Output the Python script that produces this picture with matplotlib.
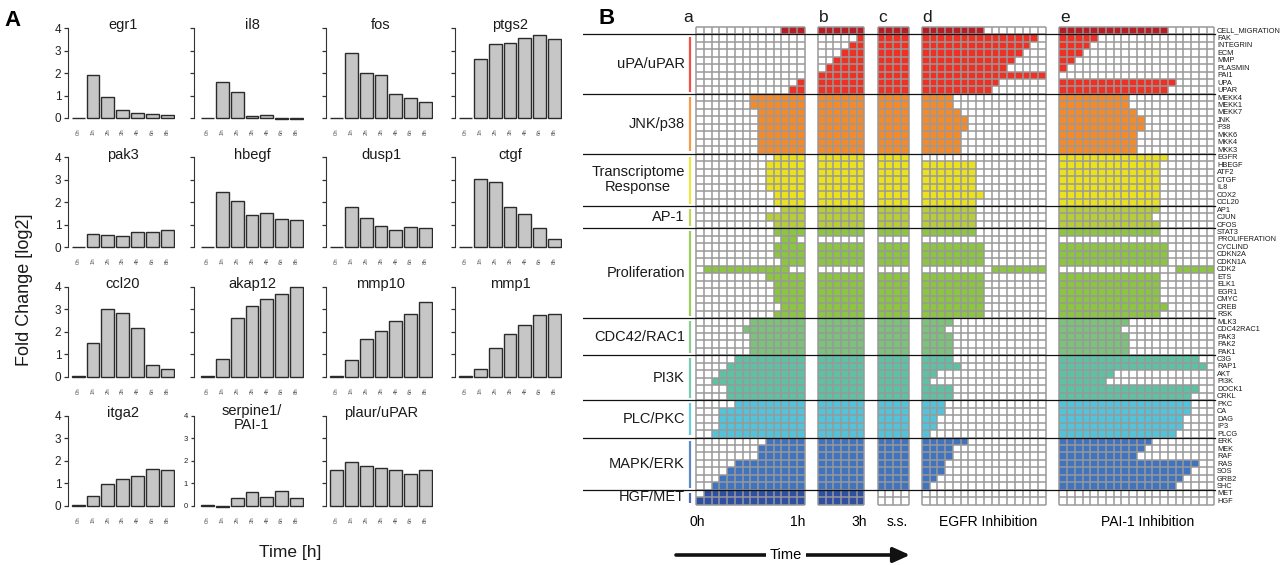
import numpy as np
import matplotlib.pyplot as plt
from matplotlib.colors import ListedColormap, BoundaryNorm

plt.rcParams['font.family'] = ['Liberation Sans', 'DejaVu Sans']

W, H = 1286, 565
fig = plt.figure(figsize=(W / 100, H / 100), dpi=100)


def px_axes(left, top, width, height):
    return fig.add_axes([left / W, 1 - (top + height) / H, width / W, height / H])


# ---------------- panel A data ----------------
time_labels = ['0h', '1h', '2h', '3h', '4h', '6h', '8h']
gene_names = ['egr1', 'il8', 'fos', 'ptgs2', 'pak3', 'hbegf', 'dusp1', 'ctgf',
              'ccl20', 'akap12', 'mmp10', 'mmp1', 'itga2', 'serpine1/\nPAI-1', 'plaur/uPAR']
egr1 = [0.02, 1.91, 0.94, 0.37, 0.22, 0.19, 0.15]
il8 = [0.01, 1.62, 1.17, 0.10, 0.15, -0.06, -0.04]
fos = [0.01, 2.90, 1.99, 1.93, 1.06, 0.89, 0.73]
ptgs2 = [0.01, 2.62, 3.27, 3.32, 3.54, 3.69, 3.51]
pak3 = [0.01, 0.61, 0.54, 0.51, 0.67, 0.67, 0.76]
hbegf = [0.01, 2.48, 2.07, 1.42, 1.51, 1.28, 1.22]
dusp1 = [0.01, 1.79, 1.29, 0.96, 0.77, 0.92, 0.86]
ctgf = [0.01, 3.04, 2.92, 1.79, 1.47, 0.87, 0.37]
ccl20 = [0.01, 1.51, 2.99, 2.81, 2.16, 0.51, 0.34]
akap12 = [0.01, 0.79, 2.62, 3.15, 3.46, 3.68, 3.97]
mmp10 = [0.01, 0.75, 1.68, 2.04, 2.49, 2.78, 3.34]
mmp1 = [0.01, 0.34, 1.26, 1.88, 2.31, 2.74, 2.79]
itga2 = [0.01, 0.42, 0.95, 1.17, 1.33, 1.61, 1.59]
serpine1 = [0.01, -0.08, 0.35, 0.61, 0.39, 0.67, 0.32]
plaur = [1.60, 1.95, 1.78, 1.68, 1.60, 1.42, 1.58]
fold_changes = [egr1, il8, fos, ptgs2, pak3, hbegf, dusp1, ctgf,
                ccl20, akap12, mmp10, mmp1, itga2, serpine1, plaur]

# ---------------- panel B data ----------------
group_names = ['', 'uPA/uPAR', 'JNK/p38', 'Transcriptome\nResponse', 'AP-1', 'Proliferation',
               'CDC42/RAC1', 'PI3K', 'PLC/PKC', 'MAPK/ERK', 'HGF/MET']
group_sizes = [1, 8, 8, 7, 3, 12, 5, 6, 5, 7, 2]
group_colors = ['#B81C24', '#EE3124', '#F58A2B', '#EBE21F', '#B9CD3B', '#8CC641',
                '#7BC27B', '#5DC1A4', '#51C4DB', '#4174BE', '#2F4FA2']
node_names = ['CELL_MIGRATION', 'FAK', 'INTEGRIN', 'ECM', 'MMP', 'PLASMIN', 'PAI1', 'UPA', 'UPAR',
              'MEKK4', 'MEKK1', 'MEKK7', 'JNK', 'P38', 'MKK6', 'MKK4', 'MKK3',
              'EGFR', 'HBEGF', 'ATF2', 'CTGF', 'IL8', 'COX2', 'CCL20',
              'AP1', 'CJUN', 'CFOS',
              'STAT3', 'PROLIFERATION', 'CYCLIND', 'CDKN2A', 'CDKN1A', 'CDK2', 'ETS', 'ELK1',
              'EGR1', 'CMYC', 'CREB', 'RSK',
              'MLK3', 'CDC42RAC1', 'PAK3', 'PAK2', 'PAK1',
              'C3G', 'RAP1', 'AKT', 'PI3K', 'DOCK1', 'CRKL',
              'PKC', 'CA', 'DAG', 'IP3', 'PLCG',
              'ERK', 'MEK', 'RAF', 'RAS', 'SOS', 'GRB2', 'SHC',
              'MET', 'HGF']

# '#' = active, '.' = inactive; one string per node
cells_a = [
    "...........###", "..............", "..............", "..............", "..............",
    "..............", "..............", ".............#", "............##",
    ".......#######", ".......#######", "........######", "........######", "........######",
    "........######", "........######", "........######",
    "..........####", ".........#####", ".........#####", ".........#####", ".........#####",
    "..........####", "..........####",
    "...........###", ".........#####", "..........####",
    "..........####", "...........##.", "..........####", "..........####", "...........###",
    ".###########..", ".........#####", "..........####", "..........####", "..........####",
    "...........###", "..........####",
    ".......#######", "......########", ".......#######", ".......#######", ".......#######",
    ".....#########", "....##########", "...###########", "..############", "....##########",
    "....##########",
    ".....#########", "...###########", "...###########", "...###########", "..############",
    ".........#####", "........######", "........######", ".....#########", "....##########",
    "...###########", "..############",
    ".#############", "##############",
]
cells_b = [
    "######", ".....#", "....##", "...###", "..####", ".#####", "######", "######", "######",
    "######", "######", "######", "######", "######", "######", "######", "######",
    "######", "######", "######", "######", "######", "######", "######",
    "######", "######", "######",
    "######", "......", "######", "######", "######", "......", "######", "######",
    "######", "######", "######", "######",
    "######", "######", "######", "######", "######",
    "######", "######", "######", "######", "######", "######",
    "######", "######", "######", "######", "######",
    "######", "######", "######", "######", "######", "######", "######",
    "######", "######",
]
cells_c = [
    "####", "####", "####", "####", "####", "####", "####", "####", "####",
    "####", "####", "####", "####", "####", "####", "####", "####",
    "####", "####", "####", "####", "####", "####", "####",
    "####", "####", "####",
    "####", "....", "####", "####", "####", "....", "####", "####",
    "####", "####", "####", "####",
    "####", "####", "####", "####", "####",
    "####", "####", "####", "####", "####", "####",
    "####", "####", "####", "####", "####",
    "####", "####", "####", "####", "####", "####", "####",
    "....", "....",
]
cells_d = [
    "########........", "###############.", "##############..", "#############...",
    "############....", "###########.....", "################", "##########......",
    "#########.......",
    "####............", "####............", "#####...........", "######..........",
    "######..........", "#####...........", "#####...........", "#####...........",
    "................", "#######.........", "#######.........", "#######.........",
    "#######.........", "########........", "#######.........",
    "#######.........", "#######.........", "#######.........",
    "#######.........", "................", "########........", "########........",
    "########........", ".........#######", "########........", "########........",
    "########........", "########........", "########........", "########........",
    "####............", "###.............", "####............", "####............",
    "####............",
    "####............", "#####...........", "##..............", "#...............",
    "####............", "####............",
    "###.............", "###.............", "##..............", "##..............",
    "#...............",
    "######..........", "####............", "####............", "###.............",
    "###.............", "##..............", "#...............",
    "................", "................",
]
cells_e = [
    "##############......", "#####...............", "####................", "###.................",
    "##..................", "#...................", "....................", "###############.....",
    "##############......",
    "#########...........", "#########...........", "##########..........", "###########.........",
    "###########.........", "##########..........", "##########..........", "##########..........",
    "##############......", "#############.......", "#############.......", "#############.......",
    "#############.......", "#############.......", "#############.......",
    "#############.......", "############........", "#############.......",
    "#############.......", "....................", "##############......", "##############......",
    "##############......", "...............#####", "#############.......", "#############.......",
    "#############.......", "#############.......", "##############......", "#############.......",
    "#########...........", "########............", "#########...........", "#########...........",
    "#########...........",
    "##################..", "###################.", "#######.............", "######..............",
    "##################..", "#################...",
    "#################...", "#################...", "################....", "################....",
    "###############.....",
    "############........", "###########.........", "##########..........", "##################..",
    "#################...", "################....", "###############.....",
    "....................", "....................",
]
panel_letters = ['a', 'b', 'c', 'd', 'e']

# ---------------- panel A drawing ----------------
col_left = [70.7, 200.0, 329.0, 458.0]
spine_gap = [2.4, 5.7, 3.3, 3.0]
row_zero = [118.0, 247.3, 376.7, 505.7]
unit = 22.5
ylo, yhi = -0.3, 4.3
bar_step = 14.85

for k, (name, vals) in enumerate(zip(gene_names, fold_changes)):
    r, c = divmod(k, 4)
    top = row_zero[r] - yhi * unit
    ax = px_axes(col_left[c], top, 7 * bar_step, (yhi - ylo) * unit)
    ax.bar(np.arange(len(vals)), vals, width=0.87, color='#C6C6C6',
           edgecolor='#2B2B2B', linewidth=1.0)
    ax.set_xlim(-0.5, 6.5)
    ax.set_ylim(ylo, yhi)
    for s in ['top', 'right', 'bottom']:
        ax.spines[s].set_visible(False)
    ax.spines['left'].set_bounds(0, 4)
    ax.spines['left'].set_position(('outward', spine_gap[c] * 0.72))
    ax.spines['left'].set_color('#333333')
    ax.set_yticks([0, 1, 2, 3, 4])
    ax.tick_params(axis='y', length=3, width=0.9, color='#333333', pad=2)
    if c == 0:
        ax.tick_params(axis='y', labelsize=8.5, labelcolor='#222222')
    elif k == 13:
        ax.tick_params(axis='y', labelsize=5.5, labelcolor='#222222', length=2.5)
    else:
        ax.tick_params(axis='y', labelleft=False)
    ax.set_xticks(np.arange(len(vals)))
    ax.set_xticklabels(time_labels, rotation=90, fontsize=4.3, color='#555555')
    ax.tick_params(axis='x', length=0, pad=2.5)
    ax.patch.set_alpha(0)
    ty = 3.9 if '\n' in name else 4.12
    ax.text(3, ty, name, ha='center', va='center', fontsize=10.5,
            color='#1A1A1A', linespacing=1.0)

fig.text(25 / W, 1 - 290 / H, 'Fold Change [log2]', rotation=90, ha='center',
         va='center', fontsize=13, color='#1A1A1A')
fig.text(290 / W, 1 - 553 / H, 'Time [h]', ha='center', va='center', fontsize=12.5,
         color='#1A1A1A')
fig.text(12 / W, 1 - 20 / H, 'A', ha='center', va='center', fontsize=16,
         fontweight='bold')
fig.text(607 / W, 1 - 18 / H, 'B', ha='center', va='center', fontsize=16,
         fontweight='bold')

# ---------------- panel B drawing ----------------
CW, RH = 7.75, 7.47          # pixel size of one cell
GX0, GY0 = 696.0, 26.7       # pixel position of the grid origin
axb = px_axes(583, 0, W - 583, H)
axb.set_xlim((583 - GX0) / CW, (W - GX0) / CW)
axb.set_ylim((H - GY0) / RH, (0 - GY0) / RH)
axb.axis('off')

row_group = np.repeat(np.arange(len(group_sizes)), group_sizes)
bounds = np.concatenate([[0], np.cumsum(group_sizes)])
cmap = ListedColormap(['white'] + group_colors)
norm = BoundaryNorm(np.arange(-0.5, len(group_colors) + 1.5), cmap.N)

panels = [cells_a, cells_b, cells_c, cells_d, cells_e]
gap = 1.72
starts = []
x = 0.0
for cells in panels:
    starts.append(x)
    x += len(cells[0]) + gap

grid_col = '#999999'
for start, cells in zip(starts, panels):
    ncol = len(cells[0])
    nrow = len(cells)
    C = np.array([[row_group[i] + 1 if ch == '#' else 0 for ch in row]
                  for i, row in enumerate(cells)])
    X = start + np.arange(ncol + 1)
    Y = np.arange(nrow + 1)
    axb.pcolormesh(X, Y, C, cmap=cmap, norm=norm, zorder=1)
    axb.vlines(X, 0, nrow, colors=grid_col, linewidth=1.1, zorder=2)
    axb.hlines(Y, start, start + ncol, colors=grid_col, linewidth=1.1, zorder=2)

xl = (583 - GX0) / CW
xr = (1215 - GX0) / CW
for b in bounds[1:-1]:
    axb.plot([xl, xr], [b, b], color='#111111', lw=0.9, zorder=5)

for g in range(1, len(group_sizes)):
    y0, y1 = bounds[g], bounds[g + 1]
    axb.plot([-0.78, -0.78], [y0 + 0.4, y1 - 0.3], color=group_colors[g], lw=1.6,
             alpha=0.85, solid_capstyle='butt')
    axb.text(-1.45, (y0 + y1) / 2, group_names[g], ha='right', va='center',
             multialignment='center', fontsize=10.5, color='#1A1A1A', linespacing=1.1)

label_x = (1217 - GX0) / CW
for i, name in enumerate(node_names):
    axb.text(label_x, i + 0.55, name, ha='left', va='center', fontsize=5.3,
             color='#1A1A1A')

letter_x = [-1.0] + [s + 0.7 for s in starts[1:]]
for lx, letter in zip(letter_x, panel_letters):
    axb.text(lx, -1.2, letter, ha='center', va='center', fontsize=12.5, color='#1A1A1A')

by = (522 - GY0) / RH
axb.text(-0.9, by, '0h', ha='left', va='center', fontsize=10)
axb.text(starts[0] + 14.1, by, '1h', ha='right', va='center', fontsize=10)
axb.text(starts[1] + 6.3, by, '3h', ha='right', va='center', fontsize=10)
axb.text(starts[2] + 2.5, by, 's.s.', ha='center', va='center', fontsize=10)
axb.text(starts[3] + 8.5, by, 'EGFR Inhibition', ha='center', va='center', fontsize=10)
axb.text(starts[4] + 11.4, by, 'PAI-1 Inhibition', ha='center', va='center', fontsize=10)

ay = (555 - GY0) / RH
axb.annotate('', xy=((910 - GX0) / CW, ay), xytext=((676 - GX0) / CW, ay),
             arrowprops=dict(arrowstyle='-|>,head_length=1.0,head_width=0.45',
                             lw=2.6, color='#111111', shrinkA=0, shrinkB=0))
axb.text((786 - GX0) / CW, ay, 'Time', ha='center', va='center', fontsize=10.5,
         zorder=10, bbox=dict(facecolor='white', edgecolor='none', pad=3))

fig.savefig('out.png', dpi=100)
